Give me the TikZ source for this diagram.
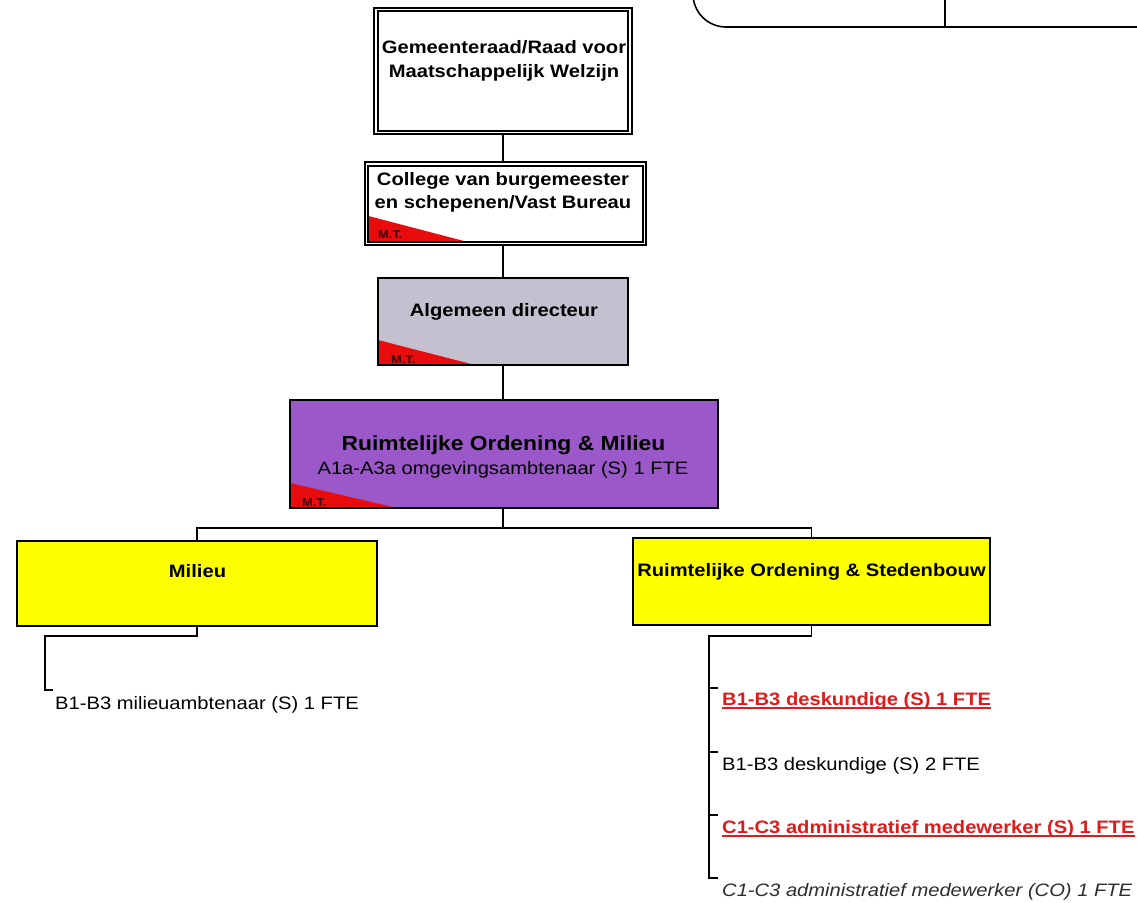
\documentclass[tikz,border=0pt]{standalone}
\usepackage{fontspec}
\setmainfont{Liberation Sans}[FakeStretch=1.12]
\usetikzlibrary{calc}
\definecolor{mtred}{RGB}{232,12,12}
\definecolor{algfill}{RGB}{196,192,208}
\definecolor{rofill}{RGB}{155,88,200}
\definecolor{yel}{RGB}{255,255,0}
\definecolor{redtxt}{RGB}{222,28,28}
\definecolor{mttxt}{RGB}{60,0,0}
\definecolor{graytxt}{RGB}{45,45,45}
\tikzset{
 box/.style={draw=black, line width=1.8pt, inner sep=0pt},
 dbox/.style={draw=black, line width=1.8pt, double=white, double distance=1.8pt, inner sep=0pt, fill=white},
 conn/.style={draw=black, line width=1.5pt},
 ttl/.style={inner sep=0pt, anchor=base, font=\fontsize{18}{22}\selectfont\bfseries},
 txt/.style={inner sep=0pt, anchor=base west, font=\fontsize{18}{22}\selectfont},
 redbold/.style={txt, text=redtxt, font=\fontsize{18}{22}\selectfont\bfseries},
 uline/.style={draw=redtxt, line width=1.2pt},
 mtlbl/.style={inner sep=0pt, anchor=base west, text=mttxt, font=\fontsize{11.5}{13}\selectfont\bfseries},
 mtcorner/.style 2 args={path picture={\fill[mtred] (path picture bounding box.south west) -- ++(0,-#1) -- ++(#2,#1) -- cycle;}},
}
\begin{document}
\begin{tikzpicture}[x=1pt,y=-1pt]
\useasboundingbox[fill=white] (0,0) rectangle (1137,902);

% partial box at the top right
\begin{scope}
\clip (0,0) rectangle (1137,902);
\draw[line width=1.6pt, rounded corners=33pt] (693,-40) -- (693,27) -- (1170,27);
\draw[line width=1.6pt] (945,-5) -- (945,27);
\end{scope}

% boxes
\node[dbox, minimum width=254pt, minimum height=123pt] (gem) at (503,71) {};
\node[dbox, mtcorner={28}{107}, minimum width=278pt, minimum height=79.5pt] (col) at (505.5,203.75) {};
\node[box, fill=algfill, mtcorner={25}{97}, minimum width=250pt, minimum height=87pt] (alg) at (503,321.5) {};
\node[box, fill=rofill, mtcorner={25}{107}, minimum width=428pt, minimum height=108pt] (ro) at (504,454) {};
\node[box, fill=yel, minimum width=360pt, minimum height=85pt] (mil) at (197,583.5) {};
\node[box, fill=yel, minimum width=357pt, minimum height=87pt] (ros) at (811.5,581.5) {};

% box texts
\node[ttl] (gem1) at (504,53) {Gemeenteraad/Raad voor};
\node[ttl] (gem2) at (504,77) {Maatschappelijk Welzijn};
\node[ttl] (col1) at (503,185) {College van burgemeester};
\node[ttl] (col2) at (503,208) {en schepenen/Vast Bureau};
\node[ttl] (alg1) at (504,316) {Algemeen directeur};
\node[ttl, font=\fontsize{20.4}{24}\selectfont\bfseries] (ro1) at (503.5,450) {Ruimtelijke Ordening \& Milieu};
\node[ttl, font=\fontsize{18}{22}\selectfont] (ro2) at (503,474) {A1a-A3a omgevingsambtenaar (S) 1 FTE};
\node[ttl] (mil1) at (197.5,577) {Milieu};
\node[ttl] (ros1) at (811.5,576) {Ruimtelijke Ordening \& Stedenbouw};

% M.T. labels
\node[mtlbl] (mtcol) at (378,238) {M.T.};
\node[mtlbl] (mtalg) at (391,363) {M.T.};
\node[mtlbl] (mtro) at (302,506) {M.T.};

% main connectors
\draw[conn] (gem.south) -- (gem.south |- col.north);
\draw[conn] (alg.north |- col.south) -- (alg.north);
\draw[conn] (alg.south) -- (alg.south |- ro.north);
\coordinate (bus) at (503,528);
\draw[conn] (ro.south -| bus) -- (bus);
\draw[conn] (mil.north) -- (mil.north |- bus) -- (ros.north |- bus) -- (ros.north);

% Milieu staff
\coordinate (milc) at (45,636);
\coordinate (mt1) at (53,690);
\node[txt] (m1) at (55,709) {B1-B3 milieuambtenaar (S) 1 FTE};
\draw[conn] (mil.south) |- (milc) |- (mt1);

% RO & Stedenbouw staff
\coordinate (rosc) at (709,636);
\coordinate (t1) at (718,688);
\coordinate (t2) at (718,752);
\coordinate (t3) at (718,815);
\coordinate (t4) at (718,878);
\node[redbold] (r1) at (722,705) {B1-B3 deskundige (S) 1 FTE};
\node[txt] (r2) at (722,770) {B1-B3 deskundige (S) 2 FTE};
\node[redbold] (r3) at (722,833) {C1-C3 administratief medewerker (S) 1 FTE};
\node[txt, text=graytxt, font=\fontsize{18}{22}\selectfont\itshape] (r4) at (722,896) {C1-C3 administratief medewerker (CO) 1 FTE};
\draw[conn] (ros.south) |- (rosc) |- (t4);
\draw[conn] (rosc |- t1) -- (t1);
\draw[conn] (rosc |- t2) -- (t2);
\draw[conn] (rosc |- t3) -- (t3);
\draw[uline] ($(r1.base west)+(0,3)$) -- ($(r1.base east)+(0,3)$);
\draw[uline] ($(r3.base west)+(0,3)$) -- ($(r3.base east)+(0,3)$);
\end{tikzpicture}
\end{document}
